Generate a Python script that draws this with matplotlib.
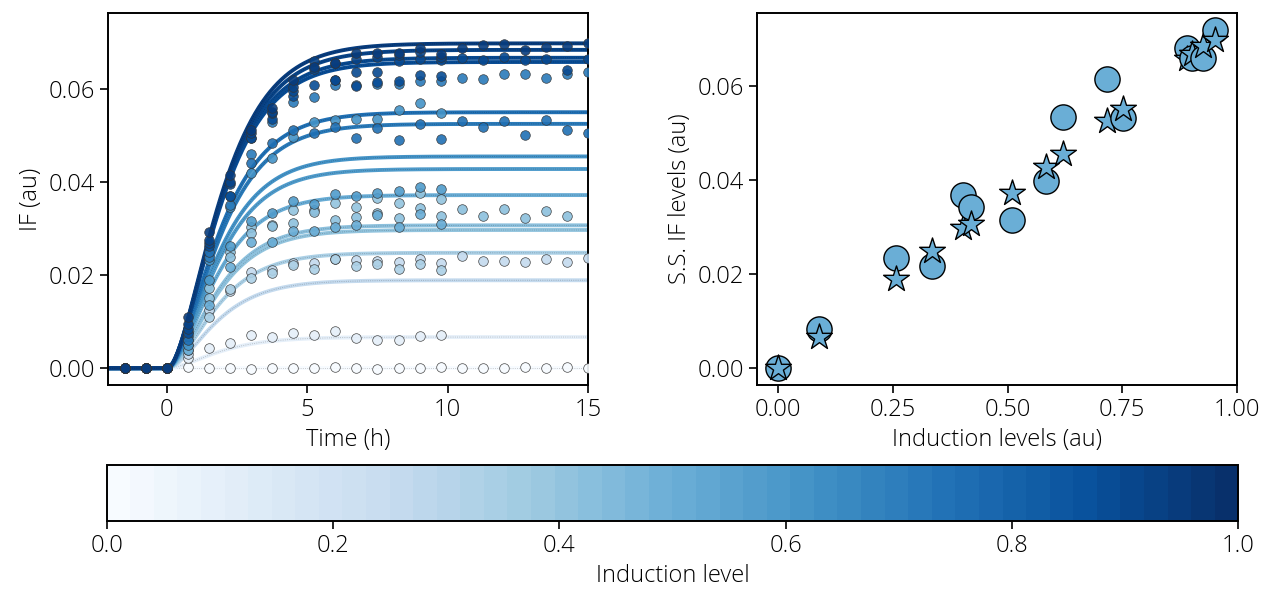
import numpy as np
import matplotlib
matplotlib.use("Agg")
import matplotlib.pyplot as plt
from matplotlib.cm import ScalarMappable
from matplotlib.colors import Normalize

plt.rcParams["font.family"] = ["Open Sans", "DejaVu Sans"]
plt.rcParams["font.size"] = 17
plt.rcParams["font.weight"] = "light"
plt.rcParams["axes.labelweight"] = "light"

# induction levels (au) and steady-state IF: model fit (stars) / data (circles)
levels = [0.0, 0.09, 0.256, 0.335, 0.404, 0.42, 0.509, 0.583, 0.62, 0.717, 0.752, 0.892, 0.903, 0.927, 0.952]
ss_model = [0.0, 0.0067, 0.0189, 0.0248, 0.0297, 0.0307, 0.0372, 0.0428, 0.0455, 0.0525, 0.055, 0.0658, 0.0667, 0.0684, 0.0698]
ss_data = [0.0, 0.0084, 0.0233, 0.0218, 0.0368, 0.0343, 0.0315, 0.0398, 0.0535, 0.0614, 0.0531, 0.068, 0.0659, 0.0659, 0.0719]
rates = [1.0, 0.95, 1.0, 1.0, 1.0, 1.0, 1.0, 0.98, 0.98, 0.95, 0.95, 0.93, 0.93, 0.92, 0.92]

# measurement times (h); short runs stop at 9.75 h
times = [-1.5, -0.75, 0, 0.75, 1.5, 2.25, 3, 3.75, 4.5, 5.25, 6, 6.75, 7.5, 8.25,
         9, 9.75, 10.5, 11.25, 12, 12.75, 13.5, 14.25, 15]

meas = [
    [0, 0, 0, 0.0003, 0.0001, 0.0, -0.0001, 0.0001, 0.0, 0.0001, 0.0002, 0.0, -0.0002, 0.0,
     0.0001, 0.0002, 0.0001, 0.0, 0.0001, 0.0002, 0.0001, 0.0002, 0.0001],
    [0, 0, 0, 0.0021, 0.0044, 0.0055, 0.0071, 0.0067, 0.0075, 0.0071, 0.0080, 0.0064, 0.0060,
     0.0060, 0.0069, 0.0071],
    [0, 0, 0, 0.003, 0.0125, 0.0165, 0.0206, 0.0211, 0.0225, 0.0225, 0.0234, 0.0233, 0.023,
     0.0228, 0.0234, 0.0225, 0.0241, 0.0231, 0.023, 0.0228, 0.0234, 0.0228, 0.0236],
    [0, 0, 0, 0.004, 0.011, 0.017, 0.0193, 0.0205, 0.0222, 0.0214, 0.0234, 0.022, 0.0224,
     0.0214, 0.0224, 0.0212],
    [0, 0, 0, 0.006, 0.0172, 0.025, 0.0304, 0.0307, 0.034, 0.034, 0.0354, 0.0347, 0.0365,
     0.0356, 0.0377, 0.0363],
    [0, 0, 0, 0.005, 0.015, 0.0239, 0.029, 0.0305, 0.0311, 0.0336, 0.0319, 0.0325, 0.0334,
     0.0323, 0.0345, 0.0327, 0.0341, 0.0326, 0.0343, 0.0323, 0.0338, 0.0326],
    [0, 0, 0, 0.004, 0.0135, 0.0218, 0.0272, 0.0272, 0.0295, 0.0295, 0.0304, 0.0308, 0.0329,
     0.0304, 0.0331, 0.0309],
    [0, 0, 0, 0.0078, 0.019, 0.0262, 0.0317, 0.0334, 0.036, 0.0352, 0.0374, 0.0371, 0.0377,
     0.0381, 0.039, 0.0386],
    [0, 0, 0, 0.005, 0.0232, 0.0347, 0.0419, 0.0451, 0.0497, 0.0528, 0.0533, 0.0535, 0.0535,
     0.0555, 0.0569, 0.0549],
    [0, 0, 0, 0.007, 0.024, 0.035, 0.046, 0.0528, 0.0573, 0.0583, 0.0609, 0.0609, 0.0611,
     0.0611, 0.0617, 0.0617, 0.0624, 0.0622, 0.0633, 0.0633, 0.0624, 0.0633, 0.0637],
    [0, 0, 0, 0.006, 0.025, 0.0369, 0.044, 0.0484, 0.0511, 0.0505, 0.0519, 0.0494, 0.0517,
     0.049, 0.0524, 0.0492, 0.0532, 0.0519, 0.0532, 0.0502, 0.0533, 0.0512, 0.0506],
    [0, 0, 0, 0.0076, 0.0262, 0.0369, 0.0494, 0.0535, 0.0584, 0.0609, 0.062, 0.0606, 0.0615,
     0.0617, 0.0631, 0.0628],
    [0, 0, 0, 0.0085, 0.027, 0.0395, 0.0494, 0.0548, 0.0595, 0.0642, 0.062, 0.0637, 0.0636,
     0.0661, 0.0664, 0.0663, 0.0667, 0.0663, 0.0668, 0.0663, 0.0664, 0.0641, 0.0665],
    [0, 0, 0, 0.0095, 0.0276, 0.0401, 0.0505, 0.055, 0.0605, 0.0659, 0.0655, 0.0665, 0.0668,
     0.0672, 0.068, 0.0668],
    [0, 0, 0, 0.0111, 0.0293, 0.0415, 0.0512, 0.0559, 0.062, 0.0648, 0.0655, 0.0677, 0.0677,
     0.0678, 0.0688, 0.0675, 0.0688, 0.0695, 0.0697, 0.0684, 0.069, 0.0693, 0.0698],
]

cmap = plt.get_cmap("Blues")
fig = plt.figure(figsize=(12.7, 5.95), dpi=100)
ax1 = fig.add_axes([0.085, 0.353, 0.378, 0.625])
ax2 = fig.add_axes([0.596, 0.353, 0.378, 0.625])
cax = fig.add_axes([0.084, 0.124, 0.891, 0.094])

# model curves: two-step maturation response to induction at t=0
tt = np.linspace(-2.5, 15.5, 400)
for lv, ss, k in zip(levels, ss_model, rates):
    tp = np.clip(tt, 0, None)
    y = ss * (1 - (1 + k * tp) * np.exp(-k * tp))
    c = cmap(lv)
    ax1.plot(tt, y, color=c, lw=2.8, zorder=2)
    ax1.plot(tt, y, color="k", lw=0.6, ls=":", alpha=0.25, zorder=2)

for lv, vals in zip(levels, meas):
    ax1.scatter(times[:len(vals)], vals, s=48, color=cmap(lv), edgecolor="#333333",
                linewidth=0.5, alpha=0.9, zorder=3)

ax1.set_xlim(-2.1, 15)
ax1.set_ylim(-0.0036, 0.0763)
ax1.set_xticks([0, 5, 10, 15])
ax1.set_yticks([0, 0.02, 0.04, 0.06])
ax1.set_xlabel("Time (h)")
ax1.set_ylabel("IF (au)")

mc = cmap(0.5)
for lv, sd, sm in zip(levels, ss_data, ss_model):
    ax2.scatter(lv, sd, s=330, marker="o", color=mc, edgecolor="k", linewidth=1.0, zorder=3)
    ax2.scatter(lv, sm, s=380, marker="*", color=mc, edgecolor="k", linewidth=1.0, zorder=3)
ax2.set_xlim(-0.046, 1.0)
ax2.set_ylim(-0.0036, 0.0755)
ax2.set_xticks([0, 0.25, 0.5, 0.75, 1.0])
ax2.set_yticks([0, 0.02, 0.04, 0.06])
ax2.set_xlabel("Induction levels (au)")
ax2.set_ylabel("S.S. IF levels (au)")

for ax in (ax1, ax2):
    for sp in ax.spines.values():
        sp.set_linewidth(1.4)
    ax.tick_params(width=1.2, length=6)

sm_ = ScalarMappable(norm=Normalize(0, 1), cmap=plt.get_cmap("Blues", 48))
cb = fig.colorbar(sm_, cax=cax, orientation="horizontal")
cb.set_ticks([0, 0.2, 0.4, 0.6, 0.8, 1.0])
cb.set_label("Induction level")
cb.outline.set_linewidth(1.4)
cax.tick_params(width=1.2, length=6)

fig.savefig("out.png", dpi=100)
